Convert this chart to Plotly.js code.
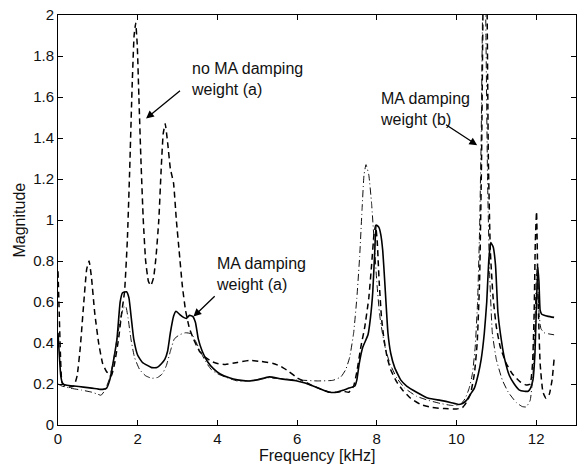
<!DOCTYPE html>
<html>
<head>
<meta charset="utf-8">
<script src="https://cdn.plot.ly/plotly-3.0.1.min.js"></script>
<style>html,body{margin:0;padding:0;background:#fff;}#chart{width:577px;height:464px;}</style>
</head>
<body>
<div id="chart"></div>
<script>
// Series: MA damping weight (a) — solid
const freqMAa = [0,0.03,0.07,0.12,0.2,0.4,0.64,0.85,1.06,1.15,1.22,1.3,1.38,1.48,1.56,1.62,1.72,1.78,1.84,1.9,2.0,2.12,2.25,2.35,2.48,2.6,2.68,2.75,2.82,2.9,2.96,3.05,3.15,3.22,3.3,3.38,3.45,3.52,3.62,3.75,3.9,4.06,4.3,4.5,4.8,5.0,5.3,5.6,6.0,6.2,6.4,6.6,6.82,7.0,7.16,7.3,7.45,7.5,7.56,7.65,7.78,7.84,7.9,7.95,7.99,8.05,8.1,8.15,8.2,8.28,8.35,8.45,8.6,8.75,9.0,9.3,9.6,9.85,10.05,10.15,10.25,10.35,10.45,10.55,10.62,10.7,10.76,10.81,10.86,10.92,10.98,11.04,11.1,11.2,11.33,11.45,11.58,11.7,11.8,11.86,11.92,11.97,12.01,12.04,12.07,12.1,12.14,12.2,12.3,12.45];
const magMAa = [0.45,0.35,0.24,0.2,0.195,0.19,0.185,0.18,0.174,0.175,0.18,0.22,0.3,0.42,0.6,0.645,0.65,0.62,0.52,0.42,0.34,0.305,0.29,0.28,0.28,0.3,0.32,0.36,0.45,0.53,0.555,0.54,0.525,0.52,0.535,0.53,0.5,0.42,0.36,0.31,0.275,0.25,0.23,0.22,0.215,0.22,0.235,0.225,0.215,0.205,0.19,0.175,0.16,0.16,0.17,0.18,0.19,0.22,0.3,0.38,0.44,0.52,0.65,0.85,0.975,0.965,0.93,0.85,0.7,0.45,0.35,0.28,0.22,0.19,0.16,0.13,0.12,0.11,0.1,0.105,0.12,0.15,0.18,0.25,0.32,0.45,0.6,0.8,0.89,0.87,0.78,0.55,0.45,0.33,0.24,0.2,0.17,0.165,0.165,0.18,0.22,0.35,0.6,0.77,0.7,0.56,0.54,0.535,0.53,0.525];

// Series: no MA damping weight (a) — dashed
const freqNoMA = [0,0.03,0.06,0.1,0.2,0.3,0.4,0.48,0.56,0.64,0.72,0.78,0.84,0.92,1.02,1.12,1.22,1.3,1.34,1.42,1.52,1.6,1.67,1.74,1.8,1.86,1.91,1.95,1.99,2.03,2.08,2.14,2.2,2.27,2.33,2.4,2.46,2.53,2.59,2.64,2.69,2.75,2.82,2.9,2.97,3.04,3.12,3.2,3.3,3.4,3.55,3.7,3.85,4.0,4.2,4.5,4.8,5.1,5.4,5.6,5.8,6.0,6.2,6.4,6.6,6.8,7.0,7.15,7.3,7.42,7.5,7.6,7.7,7.8,7.87,7.93,7.97,8.01,8.06,8.12,8.18,8.26,8.35,8.5,8.65,8.85,9.1,9.4,9.7,10.0,10.15,10.25,10.35,10.45,10.52,10.58,10.63,10.7,10.76,10.8,10.85,10.92,11.0,11.1,11.25,11.4,11.6,11.75,11.85,11.91,11.95,11.98,12.01,12.05,12.1,12.17,12.25,12.33,12.4,12.45];
const magNoMA = [0.75,0.55,0.35,0.21,0.185,0.185,0.19,0.24,0.38,0.58,0.76,0.8,0.72,0.55,0.4,0.3,0.26,0.245,0.24,0.3,0.42,0.55,0.65,0.9,1.25,1.65,1.9,1.96,1.85,1.6,1.3,1.0,0.8,0.7,0.68,0.72,0.82,1.0,1.25,1.42,1.47,1.38,1.25,1.18,1.0,0.85,0.68,0.56,0.47,0.42,0.36,0.33,0.31,0.3,0.295,0.305,0.315,0.31,0.3,0.285,0.26,0.23,0.21,0.19,0.175,0.16,0.16,0.165,0.16,0.19,0.26,0.38,0.48,0.62,0.78,0.93,0.975,0.9,0.7,0.52,0.42,0.33,0.27,0.21,0.17,0.13,0.1,0.085,0.08,0.078,0.085,0.11,0.15,0.25,0.4,0.7,1.3,2.6,2.2,1.3,0.85,0.62,0.48,0.38,0.3,0.25,0.21,0.195,0.2,0.3,0.55,0.9,1.04,0.6,0.3,0.16,0.13,0.15,0.22,0.32];

// Series: MA damping weight (b) — dash-dot
const freqMAb = [0,0.1,0.3,0.6,0.85,1.0,1.08,1.18,1.28,1.38,1.48,1.57,1.64,1.7,1.76,1.83,1.92,2.05,2.2,2.35,2.5,2.62,2.72,2.82,2.92,3.05,3.2,3.35,3.45,3.55,3.7,3.85,4.0,4.25,4.5,4.8,5.0,5.3,5.6,6.0,6.5,6.9,7.1,7.22,7.32,7.42,7.5,7.57,7.63,7.68,7.73,7.8,7.87,7.94,8.0,8.07,8.14,8.22,8.33,8.5,8.7,9.0,9.3,9.6,9.9,10.1,10.22,10.32,10.4,10.47,10.53,10.58,10.62,10.66,10.7,10.74,10.78,10.83,10.9,11.0,11.15,11.3,11.5,11.65,11.75,11.85,11.92,11.97,12.0,12.03,12.07,12.12,12.2,12.3,12.45];
const magMAb = [0.2,0.19,0.18,0.17,0.16,0.15,0.145,0.17,0.22,0.3,0.42,0.52,0.57,0.58,0.52,0.42,0.33,0.27,0.24,0.228,0.232,0.25,0.29,0.36,0.42,0.44,0.45,0.445,0.41,0.37,0.31,0.27,0.25,0.23,0.215,0.215,0.222,0.23,0.225,0.22,0.215,0.218,0.235,0.27,0.33,0.45,0.62,0.82,1.05,1.22,1.27,1.22,1.08,0.88,0.7,0.54,0.45,0.37,0.3,0.23,0.18,0.14,0.12,0.105,0.095,0.1,0.13,0.18,0.25,0.38,0.6,0.95,1.4,2.1,2.5,1.9,1.2,0.75,0.45,0.32,0.22,0.16,0.11,0.09,0.088,0.12,0.25,0.5,0.7,0.78,0.55,0.47,0.45,0.445,0.44];

// Axis ticks
const xTicks = [0,2,4,6,8,10,12];
const yTicks = [0,0.2,0.4,0.6,0.8,1,1.2,1.4,1.6,1.8,2];
const yTickText = ['0','0.2','0.4','0.6','0.8','1','1.2','1.4','1.6','1.8','2'];

// Annotation labels
const labelTexts = ['no MA damping<br>weight (a)','MA damping<br>weight (a)','MA damping<br>weight (b)'];
const labelPos = [[3.28,1.69],[3.92,0.735],[8.02,1.54]];
const arrowHeads = [[2.21,1.495],[3.40,0.529],[10.52,1.365]];
const arrowTails = [[3.10,1.637],[3.97,0.635],[9.70,1.469]];

const FONT = 'Liberation Sans, Arial, Helvetica, sans-serif';

const L = 58, R = 1, T = 15, B = 39, W = 577, H = 464;
const pw = W - L - R, ph = H - T - B;

const traces = [
  {x: freqMAa, y: magMAa, mode: 'lines', line: {color: '#000', width: 1.6, shape: 'spline', smoothing: 0.4}, name: 'MA damping weight (a)'},
  {x: freqNoMA, y: magNoMA, mode: 'lines', line: {color: '#000', width: 1.5, dash: '6px,4px', shape: 'spline', smoothing: 0.4}, name: 'no MA damping weight (a)'},
  {x: freqMAb, y: magMAb, mode: 'lines', line: {color: '#111', width: 1, dash: '7px,3px,1px,3px', shape: 'spline', smoothing: 0.4}, name: 'MA damping weight (b)'}
];

const annotations = [];
for (let i = 0; i < labelTexts.length; i++) {
  annotations.push({x: labelPos[i][0], y: labelPos[i][1], xref: 'x', yref: 'y', text: labelTexts[i], showarrow: false, xanchor: 'left', yanchor: 'middle', align: 'left', font: {family: FONT, size: 16, color: '#111'}});
  annotations.push({x: arrowHeads[i][0], y: arrowHeads[i][1], ax: arrowTails[i][0], ay: arrowTails[i][1], xref: 'x', yref: 'y', axref: 'x', ayref: 'y', text: '', showarrow: true, arrowhead: 2, arrowsize: 1.2, arrowwidth: 1.3, arrowcolor: '#000'});
}
// axis titles placed by pixel position
annotations.push({xref: 'paper', yref: 'paper', x: 0.5, y: (H - B - 455) / ph, xanchor: 'center', yanchor: 'middle', text: 'Frequency [kHz]', showarrow: false, font: {family: FONT, size: 16, color: '#111'}});
annotations.push({xref: 'paper', yref: 'paper', x: (18.5 - L) / pw, y: (H - B - 220) / ph, xanchor: 'center', yanchor: 'middle', text: 'Magnitude', showarrow: false, textangle: -90, font: {family: FONT, size: 16, color: '#111'}});

const layout = {
  width: W, height: H,
  margin: {l: L, r: R, t: T, b: B},
  paper_bgcolor: '#fff', plot_bgcolor: '#fff',
  showlegend: false,
  font: {family: FONT, size: 15, color: '#111'},
  xaxis: {range: [0, 13], tickvals: xTicks, ticktext: xTicks.map(String), ticks: 'inside', ticklen: 5, tickcolor: '#000', showline: true, linecolor: '#000', linewidth: 1, mirror: 'ticks', showgrid: false, zeroline: false, tickfont: {family: FONT, size: 15, color: '#111'}},
  yaxis: {range: [0, 2], tickvals: yTicks, ticktext: yTickText, ticks: 'inside', ticklen: 5, tickcolor: '#000', showline: true, linecolor: '#000', linewidth: 1, mirror: 'ticks', showgrid: false, zeroline: false, tickfont: {family: FONT, size: 15, color: '#111'}},
  annotations: annotations
};

Plotly.newPlot('chart', traces, layout, {staticPlot: true, displayModeBar: false});
</script>
</body>
</html>
